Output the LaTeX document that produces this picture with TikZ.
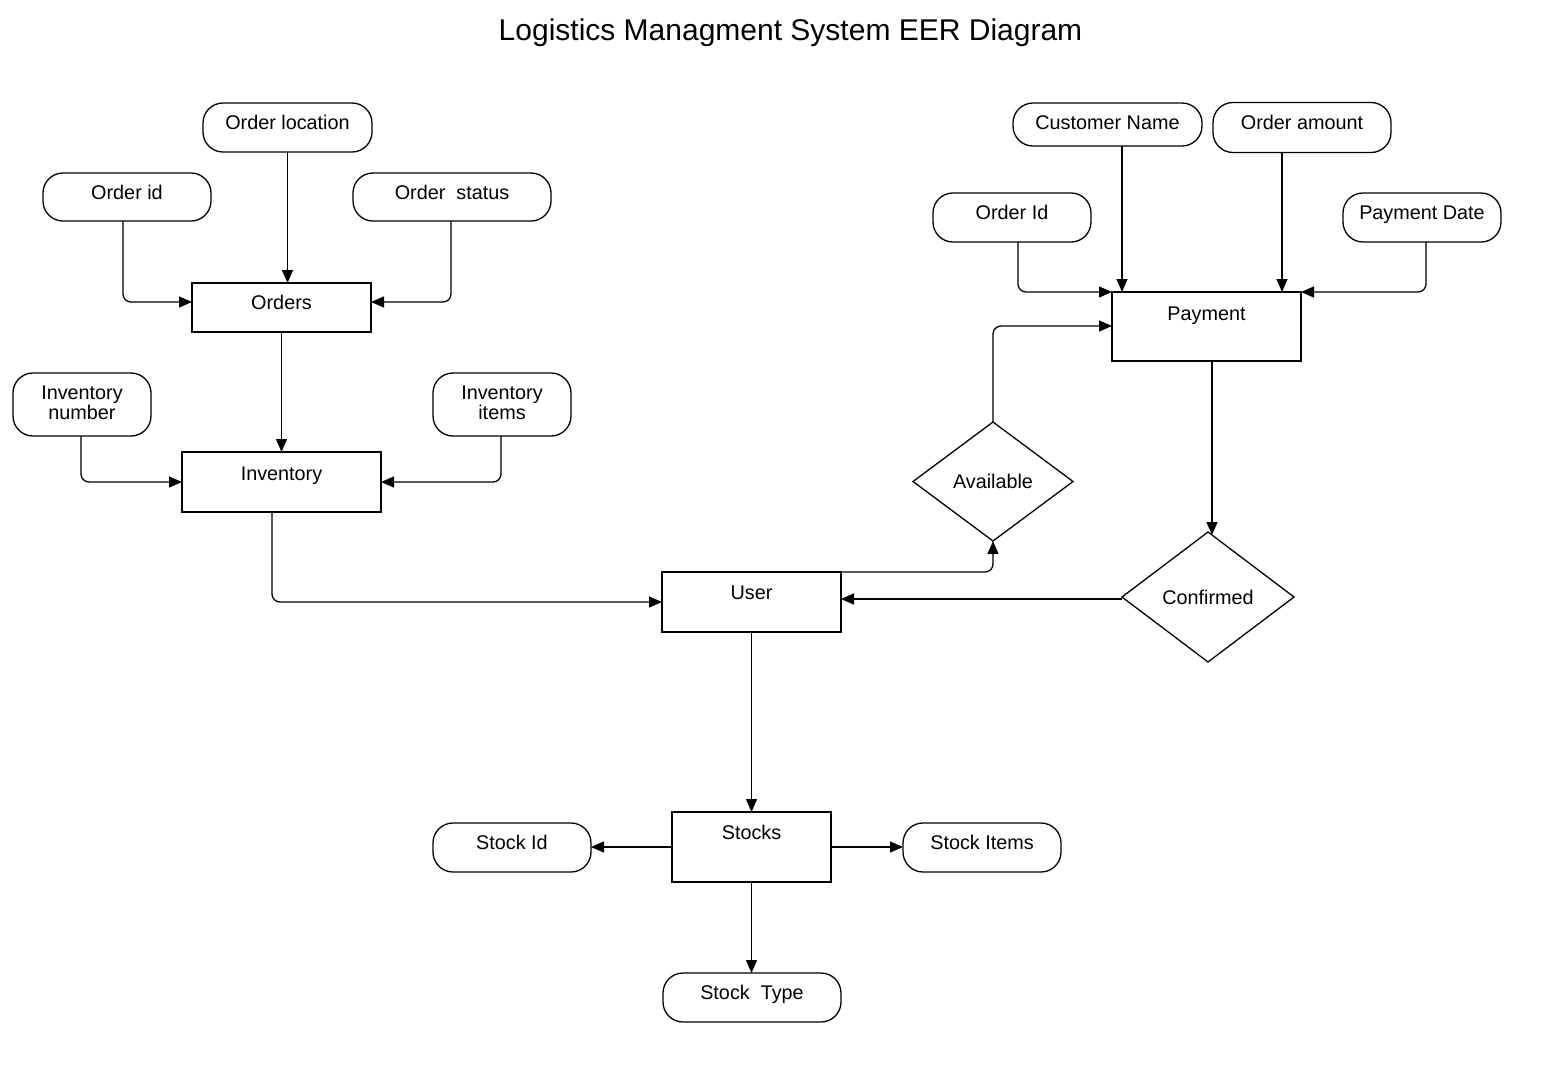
\documentclass[tikz,border=0pt]{standalone}
\usepackage{fontspec}
\setmainfont{Liberation Sans}
\usetikzlibrary{shapes.geometric,arrows.meta,calc}
\tikzset{
  base/.style={draw, line width=1.3pt, inner sep=0pt, outer sep=0pt, font=\fontsize{19.8}{22}\selectfont},
  ent/.style={base, rectangle},
  attr/.style={base, rectangle, rounded corners=20pt},
  rel/.style={base, diamond},
  lbl/.style={anchor=center, yshift=-21.5pt, text height=14pt, text depth=4pt, font=\fontsize{19.8}{22}\selectfont, inner sep=0pt},
  lbltwo/.style={anchor=center, yshift=1.5pt, align=center, font=\fontsize{19.8}{20}\selectfont, inner sep=0pt},
  conn/.style={line width=1.3pt, rounded corners=8pt, -{Triangle[length=13pt,width=11pt]}},
}
\begin{document}
\begin{tikzpicture}[x=1pt,y=-1pt]
\useasboundingbox (0,0) rectangle (1551,1072);
\fill[white] (0,0) rectangle (1551,1072);
\node[font=\fontsize{30}{34}\selectfont, inner sep=0pt] (title) at (790.5,33) {Logistics Managment System EER Diagram};

% left cluster
\node[attr, minimum width=169pt, minimum height=49pt, label={[lbl]north:Order location}] (oloc) at (287.5,127.5) {};
\node[attr, minimum width=168pt, minimum height=48pt, label={[lbl]north:Order id}] (oid) at (127,197) {};
\node[attr, minimum width=198pt, minimum height=48pt, label={[lbl]north:Order\ \ status}] (ostat) at (452,197) {};
\node[ent, minimum width=179pt, minimum height=49pt, label={[lbl]north:Orders}] (orders) at (281.5,307.5) {};
\node[attr, minimum width=138pt, minimum height=63pt, label={[lbltwo]center:Inventory\\number}] (invnum) at (82,404.5) {};
\node[attr, minimum width=138pt, minimum height=63pt, label={[lbltwo]center:Inventory\\items}] (invitems) at (502,404.5) {};
\node[ent, minimum width=199pt, minimum height=60pt, label={[lbl,yshift=-1.5pt]north:Inventory}] (inv) at (281.5,482) {};

% centre
\node[ent, minimum width=179pt, minimum height=60pt, label={[lbl,yshift=-1pt]north:User}] (user) at (751.5,602) {};
\node[rel, minimum width=160pt, minimum height=119pt] (avail) at (993,481.5) {Available};
\node[rel, minimum width=172pt, minimum height=130pt] (conf) at (1208,597) {Confirmed};

% right cluster
\node[ent, minimum width=189pt, minimum height=69pt, label={[lbl,yshift=-1.5pt]north:Payment}] (pay) at (1206.5,326.5) {};
\node[attr, minimum width=189pt, minimum height=43pt, label={[lbl]north:Customer Name}] (cname) at (1107.5,124.5) {};
\node[attr, minimum width=178pt, minimum height=50pt, label={[lbl]north:Order amount}] (oamt) at (1302,127.5) {};
\node[attr, minimum width=158pt, minimum height=49pt, label={[lbl]north:Order Id}] (payoid) at (1012,217.5) {};
\node[attr, minimum width=158pt, minimum height=49pt, label={[lbl]north:Payment Date}] (pdate) at (1422,217.5) {};

% bottom
\node[ent, minimum width=159pt, minimum height=70pt, label={[lbl,yshift=-0.5pt]north:Stocks}] (stocks) at (751.5,847) {};
\node[attr, minimum width=158pt, minimum height=49pt, label={[lbl]north:Stock Id}] (stockid) at (512,847.5) {};
\node[attr, minimum width=158pt, minimum height=49pt, label={[lbl]north:Stock Items}] (stockitems) at (982,847.5) {};
\node[attr, minimum width=178pt, minimum height=49pt, label={[lbl]north:Stock\ \ Type}] (stype) at (752,997.5) {};

% connectors
\draw[conn] (oloc.south) -- (oloc.south |- orders.north);
\draw[conn] ([xshift=-4pt]oid.south) |- ([yshift=5.5pt]orders.west);
\draw[conn] ([xshift=-1pt]ostat.south) |- ([yshift=5.5pt]orders.east);
\draw[conn] (orders.south) -- (orders.south |- inv.north);
\draw[conn] ([xshift=-1pt]invnum.south) |- (inv.west);
\draw[conn] ([xshift=-1pt]invitems.south) |- (inv.east);
\draw[conn] ([xshift=-9.5pt]inv.south) |- (user.west);
\draw[conn] (user.north east) -| (avail.south);
\draw[conn] (avail.north) |- ([yshift=0.5pt]pay.west);
\draw[conn] ([xshift=5.5pt]pay.south) -- ([xshift=5.5pt,yshift=-3pt]pay.south |- conf.north);
\draw[conn] ([yshift=-2pt]conf.west) -- ([yshift=-2pt]conf.west -| user.east);
\draw[conn] ([xshift=6pt]payoid.south) |- (pay.north west);
\draw[conn] ([xshift=14.5pt]cname.south) -- ([xshift=14.5pt]cname.south |- pay.north);
\draw[conn] ([xshift=-20pt]oamt.south) -- ([xshift=-20pt]oamt.south |- pay.north);
\draw[conn] ([xshift=4pt]pdate.south) |- (pay.north east);
\draw[conn] (user.south) -- (user.south |- stocks.north);
\draw[conn] (stocks.west) -- (stocks.west -| stockid.east);
\draw[conn] (stocks.east) -- (stocks.east -| stockitems.west);
\draw[conn] (stocks.south) -- (stocks.south |- stype.north);
\end{tikzpicture}
\end{document}
